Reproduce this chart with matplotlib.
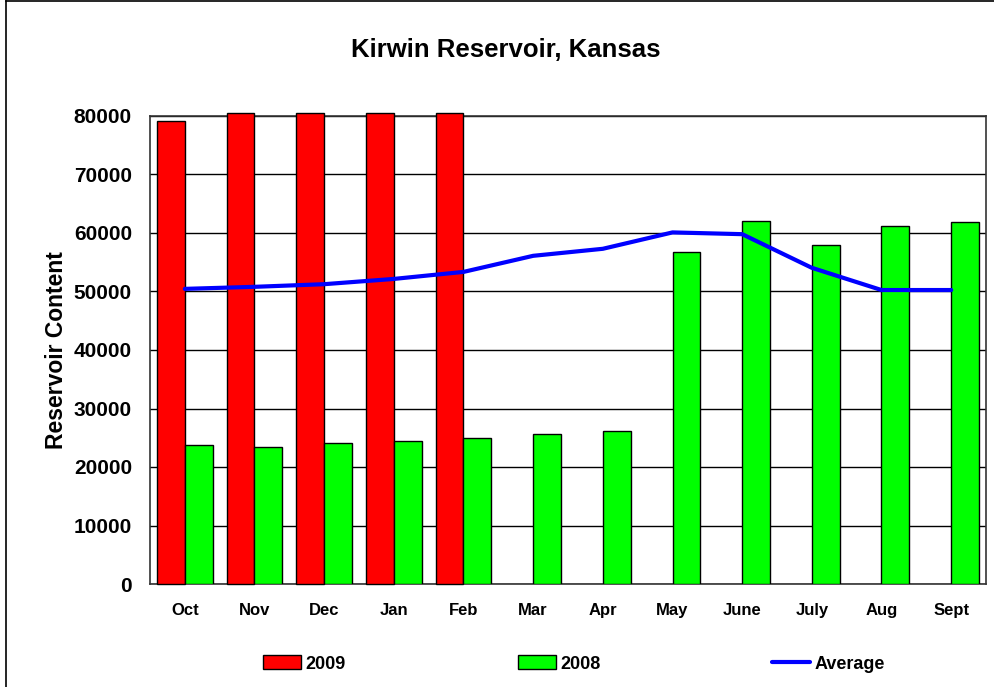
import numpy as np
import matplotlib.pyplot as plt
from matplotlib.lines import Line2D

plt.rcParams['font.family'] = ['Liberation Sans', 'DejaVu Sans']
plt.rcParams['font.weight'] = 'bold'

# Data
months = ['Oct', 'Nov', 'Dec', 'Jan', 'Feb', 'Mar', 'Apr', 'May', 'June', 'July', 'Aug', 'Sept']
y2009 = [79200, 80550, 80550, 80550, 80550, np.nan, np.nan, np.nan, np.nan, np.nan, np.nan, np.nan]
y2008 = [23700, 23500, 24050, 24400, 24900, 25600, 26200, 56700, 62100, 57900, 61150, 61800]
average = [50450, 50800, 51250, 52150, 53350, 56100, 57300, 60100, 59800, 54050, 50250, 50250]

fig = plt.figure(figsize=(9.95, 6.87), dpi=100)
ax = fig.add_axes([150 / 995, 1 - 584 / 687, 836 / 995, 468 / 687])

x = np.arange(len(months))
w = 0.4
ax.bar(x - w / 2, y2009, w, color='#ff0000', edgecolor='black', linewidth=1,
       label='2009', clip_on=False, zorder=3)
ax.bar(x + w / 2, y2008, w, color='#00ff00', edgecolor='black', linewidth=1,
       label='2008', zorder=3)
ax.plot(x, average, color='#0000ff', linewidth=3, label='Average', zorder=4,
        solid_capstyle='round')

ax.set_xlim(-0.5, len(months) - 0.5)
ax.set_ylim(0, 80000)
ax.set_yticks(np.arange(0, 80001, 10000))
ax.set_xticks(x)
ax.set_xticklabels(months)
ax.yaxis.grid(True, color='black', linewidth=1)
ax.set_axisbelow(True)
ax.tick_params(axis='both', length=0)
ax.tick_params(axis='x', pad=14, labelsize=12)
ax.tick_params(axis='y', pad=13, labelsize=15)
for s in ax.spines.values():
    s.set_linewidth(1.2)
    s.set_color('#333333')

ax.set_ylabel('Reservoir Content', fontsize=16.5, fontweight='bold', labelpad=4)
fig.text(0.508, 1 - 50 / 687, 'Kirwin Reservoir, Kansas', fontsize=18.5,
         fontweight='bold', ha='center', va='center')

handles, labels = ax.get_legend_handles_labels()
order = [labels.index(l) for l in ['2009', '2008', 'Average']]
fig.legend([handles[i] for i in order], [labels[i] for i in order],
           loc='center', bbox_to_anchor=(574 / 995, 1 - 664 / 687), ncol=3,
           frameon=False, fontsize=13, handlelength=2.1, handleheight=0.83,
           handletextpad=0.25, columnspacing=9.5)

# outer frame of the chart area
fig.add_artist(Line2D([6 / 995, 6 / 995], [0, 1 - 1 / 687], color='black', linewidth=1.2))
fig.add_artist(Line2D([6 / 995, 1], [1 - 1 / 687, 1 - 1 / 687], color='black', linewidth=1.2))

fig.savefig('out.png', dpi=100)
